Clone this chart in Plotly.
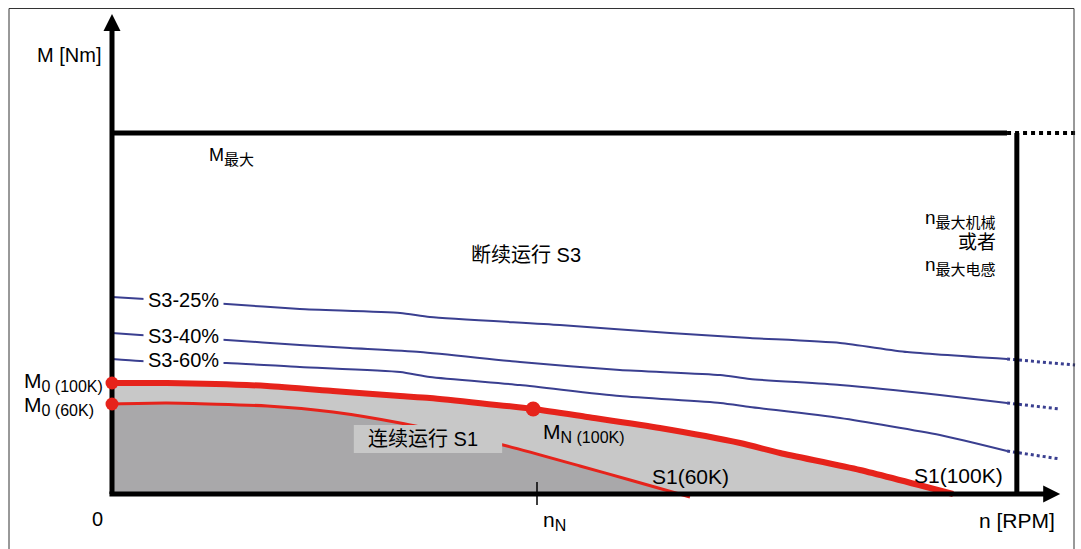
import plotly.graph_objects as go

# Speed in rpm, torque in Nm
# S3 intermittent duty curves
n_s3_25 = [0, 270, 442, 678, 748, 1054, 1313, 1501, 1713, 1871, 2106]
m_s3_25 = [19.7, 19.0, 18.5, 18.1, 17.7, 16.9, 16.1, 15.6, 15.1, 14.2, 13.5]

n_s3_40 = [0, 66, 270, 442, 560, 725, 960, 1195, 1431, 1501, 1713, 1948, 2106]
m_s3_40 = [16.1, 15.9, 15.4, 14.9, 14.6, 14.2, 13.2, 12.4, 11.9, 11.5, 10.9, 9.9, 9.1]

n_s3_60 = [0, 66, 270, 442, 678, 748, 960, 1195, 1431, 1501, 1713, 1948, 2106]
m_s3_60 = [13.5, 13.3, 13.1, 12.7, 12.2, 11.7, 10.9, 9.8, 9.1, 8.7, 7.6, 5.9, 4.3]

# Extension of the S3 curves beyond the speed limit
n_s3_ext = [2266, 2231, 2231]
m_s3_ext = [12.9, 8.5, 3.5]

# S1 continuous duty curves
n_s1_100k = [0, 129, 365, 520, 678, 748, 991, 1118, 1289, 1478, 1572, 1760, 1979]
m_s1_100k = [11.1, 11.1, 10.8, 10.3, 9.8, 9.6, 8.5, 7.7, 6.6, 5.1, 4.1, 2.4, 0.0]

n_s1_60k = [0, 129, 365, 520, 678, 920, 1101, 1219, 1360]
m_s1_60k = [9.0, 9.1, 8.8, 8.2, 7.1, 4.9, 2.8, 1.4, -0.3]

IDX_RATED = 6          # rated point on the 100K curve
M_MAX = 36.1           # maximum torque
N_MAX = 2129           # maximum speed
N_RATED = 1000         # rated speed tick
N_LIMIT_END = 2266     # end of dotted extensions
N_AXIS_TIP = 2231
M_AXIS_TIP = 48.0

FONT = "Liberation Sans, Arial, Noto Sans CJK SC, sans-serif"
BLUE = "#3a3f90"
RED = "#e6231b"
LIGHT = "#c8c8c8"
DARK = "#a9a8aa"
SMOOTH = dict(shape="spline", smoothing=0.6)

fig = go.Figure()

# Filled operating areas
fig.add_trace(go.Scatter(x=n_s1_100k, y=m_s1_100k, mode="lines", fill="tozeroy",
                         fillcolor=LIGHT, line=dict(width=0, **SMOOTH)))
fig.add_trace(go.Scatter(x=n_s1_60k, y=m_s1_60k, mode="lines", fill="tozeroy",
                         fillcolor=DARK, line=dict(width=0, **SMOOTH)))

# S3 curves
for n, m in [(n_s3_25, m_s3_25), (n_s3_40, m_s3_40), (n_s3_60, m_s3_60)]:
    fig.add_trace(go.Scatter(x=n, y=m, mode="lines",
                             line=dict(color=BLUE, width=2, **SMOOTH)))
for n, m, ne, me in zip([n_s3_25, n_s3_40, n_s3_60], [m_s3_25, m_s3_40, m_s3_60],
                        n_s3_ext, m_s3_ext):
    fig.add_trace(go.Scatter(x=[n[-1], ne], y=[m[-1], me], mode="lines",
                             line=dict(color=BLUE, width=3, dash="dot")))

# S1 curves
fig.add_trace(go.Scatter(x=n_s1_60k, y=m_s1_60k, mode="lines",
                         line=dict(color=RED, width=3, **SMOOTH)))
fig.add_trace(go.Scatter(x=n_s1_100k, y=m_s1_100k, mode="lines",
                         line=dict(color=RED, width=6, **SMOOTH)))

# Maximum torque and maximum speed limits
fig.add_trace(go.Scatter(x=[0, n_s3_25[-1]], y=[M_MAX, M_MAX], mode="lines",
                         line=dict(color="black", width=5)))
fig.add_trace(go.Scatter(x=[n_s3_25[-1], N_LIMIT_END], y=[M_MAX, M_MAX], mode="lines",
                         line=dict(color="black", width=4, dash="dot")))
fig.add_trace(go.Scatter(x=[N_MAX, N_MAX], y=[0, M_MAX], mode="lines",
                         line=dict(color="black", width=5)))

# Axes with arrow heads
fig.add_trace(go.Scatter(x=[0, 0], y=[0, M_AXIS_TIP - 1.2], mode="lines",
                         line=dict(color="black", width=5)))
fig.add_trace(go.Scatter(x=[-6, N_AXIS_TIP - 30], y=[0, 0], mode="lines",
                         line=dict(color="black", width=5)))
fig.add_trace(go.Scatter(x=[0], y=[M_AXIS_TIP], mode="markers",
                         marker=dict(symbol="arrow-up", size=17, color="black")))
fig.add_trace(go.Scatter(x=[N_AXIS_TIP], y=[0], mode="markers",
                         marker=dict(symbol="arrow-right", size=17, color="black")))
fig.add_trace(go.Scatter(x=[N_RATED, N_RATED], y=[1.2, -1.1], mode="lines",
                         line=dict(color="black", width=1.5)))

# Stall and rated torque points
fig.add_trace(go.Scatter(x=[n_s1_100k[0], n_s1_60k[0]], y=[m_s1_100k[0], m_s1_60k[0]],
                         mode="markers", marker=dict(color=RED, size=13)))
fig.add_trace(go.Scatter(x=[n_s1_100k[IDX_RATED]], y=[m_s1_100k[IDX_RATED]],
                         mode="markers", marker=dict(color=RED, size=15)))

shapes = [
    # background of the continuous-duty label
    dict(type="rect", xref="x", yref="y", x0=569, x1=918, y0=4.1, y1=6.9,
         fillcolor=LIGHT, line=dict(width=0), layer="above"),
    # outer frame
    dict(type="rect", xref="paper", yref="paper", x0=9 / 1081, x1=1074 / 1081,
         y0=-0.05, y1=1 - 8.5 / 549, line=dict(color="#333333", width=1)),
]


def note(text, x, y, size=20, xanchor="center", bg=None, pad=1):
    return dict(text=text, x=x, y=y, xref="x", yref="y", showarrow=False,
                xanchor=xanchor, yanchor="middle", font=dict(family=FONT, size=size, color="black"),
                bgcolor=bg if bg else "rgba(0,0,0,0)", borderpad=pad)


def sub(text, px):
    return '<sub><span style="font-size:{}px">{}</span></sub>'.format(px, text)


annotations = [
    note("M [Nm]", -21, 43.9, xanchor="right"),
    note("M" + sub("最大", 15), 223, 33.8, size=18, xanchor="left"),
    note("断续运行 S3", 973, 23.9),
    note("n" + sub("最大机械", 15), 2085, 27.5, size=19, xanchor="right"),
    note("或者", 2085, 25.2, size=19, xanchor="right"),
    note("n" + sub("最大电感", 15), 2085, 22.8, size=19, xanchor="right"),
    note("S3-25%", 169, 19.4, bg="white", pad=4),
    note("S3-40%", 169, 15.8, bg="white", pad=4),
    note("S3-60%", 169, 13.4, bg="white", pad=4),
    note("M" + sub("0 (100K)", 16), -212, 11.2, size=21, xanchor="left"),
    note("M" + sub("0 (60K)", 16), -212, 8.8, size=21, xanchor="left"),
    note("连续运行 S1", 731, 5.5),
    note("M" + sub("N (100K)", 16), 1009, 6.1, size=21, xanchor="left"),
    note("S1(60K)", 1362, 1.8, size=21),
    note("S1(100K)", 1991, 1.9, size=21),
    note("0", -35, -2.5),
    note("n" + sub("N", 16), 1009, -2.7, size=21, xanchor="left"),
    note("n [RPM]", 2129, -2.6, size=21),
]

fig.update_layout(
    width=1081, height=549, autosize=False,
    margin=dict(l=0, r=0, t=0, b=0),
    paper_bgcolor="white", plot_bgcolor="white",
    showlegend=False,
    xaxis=dict(range=[-263.53, 2280], visible=False, fixedrange=True),
    yaxis=dict(range=[-5.5, 49.4], visible=False, fixedrange=True),
    shapes=shapes,
    annotations=annotations,
)

fig.write_html("out.html")
